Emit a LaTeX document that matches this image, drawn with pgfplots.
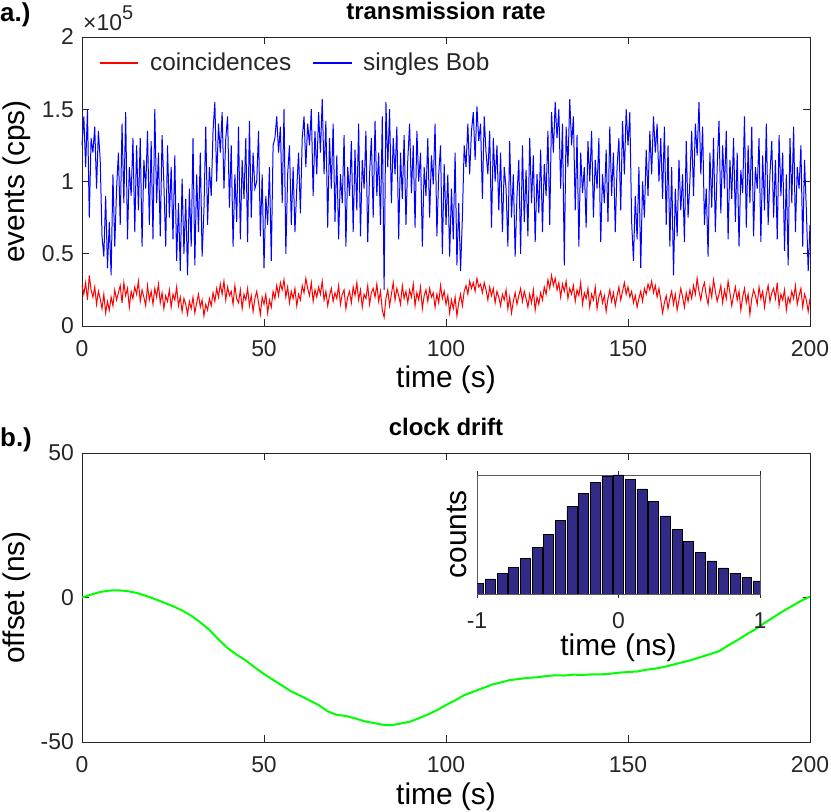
\documentclass[border=0pt]{standalone}
\usepackage{pgfplots}
\pgfplotsset{compat=1.18}
\usepackage{pgfplotstable}
\usepackage{fontspec}
\setmainfont{Liberation Sans}
\definecolor{axgray}{RGB}{38,38,38}
\definecolor{barblue}{RGB}{50,42,135}

% singles Bob (units of 1e5 cps), one value every 0.5 s from 0 to 200 s
\pgfplotstableread[row sep=\\]{
y\\
1.25\\ 1.45\\ 1.10\\ 1.50\\ 0.75\\ 1.30\\ 1.20\\ 1.38\\ 0.95\\ 1.35\\
1.15\\ 0.62\\ 0.48\\ 0.90\\ 0.40\\ 0.72\\ 0.35\\ 1.05\\ 0.55\\ 0.95\\
1.20\\ 0.70\\ 1.40\\ 0.85\\ 1.48\\ 0.60\\ 1.10\\ 0.90\\ 1.30\\ 0.65\\
1.25\\ 0.80\\ 1.30\\ 0.55\\ 1.15\\ 0.95\\ 1.35\\ 0.70\\ 1.28\\ 0.60\\
1.50\\ 0.85\\ 1.20\\ 0.62\\ 1.32\\ 0.98\\ 0.55\\ 1.25\\ 0.75\\ 1.10\\
0.60\\ 1.18\\ 0.45\\ 0.85\\ 0.38\\ 1.02\\ 0.50\\ 0.88\\ 0.35\\ 0.95\\
0.55\\ 1.30\\ 0.42\\ 1.05\\ 0.65\\ 1.20\\ 0.48\\ 0.80\\ 1.38\\ 0.70\\
1.10\\ 0.90\\ 1.35\\ 1.55\\ 1.00\\ 1.40\\ 1.20\\ 1.48\\ 0.95\\ 1.30\\
1.45\\ 0.82\\ 1.25\\ 0.55\\ 1.05\\ 0.72\\ 1.38\\ 0.60\\ 1.15\\ 0.88\\
1.30\\ 0.58\\ 1.42\\ 0.75\\ 1.20\\ 0.95\\ 1.00\\ 1.35\\ 0.62\\ 1.05\\
0.40\\ 0.90\\ 0.70\\ 1.10\\ 0.45\\ 1.25\\ 1.30\\ 1.45\\ 1.20\\ 1.38\\
0.85\\ 1.50\\ 0.50\\ 1.05\\ 1.25\\ 0.70\\ 1.10\\ 0.65\\ 0.95\\ 1.20\\
0.78\\ 1.30\\ 1.45\\ 1.10\\ 1.40\\ 1.25\\ 1.50\\ 0.90\\ 1.35\\ 1.05\\
1.48\\ 1.20\\ 1.57\\ 1.05\\ 1.42\\ 0.68\\ 1.30\\ 0.95\\ 1.40\\ 0.72\\
1.18\\ 0.60\\ 1.05\\ 0.85\\ 1.32\\ 0.55\\ 1.10\\ 0.90\\ 1.28\\ 0.65\\
1.22\\ 0.80\\ 1.40\\ 0.62\\ 1.15\\ 0.95\\ 1.35\\ 0.58\\ 1.05\\ 1.30\\
0.75\\ 1.42\\ 0.90\\ 1.20\\ 0.70\\ 1.45\\ 0.25\\ 1.55\\ 1.10\\ 1.50\\
0.85\\ 1.30\\ 1.05\\ 1.38\\ 0.60\\ 1.20\\ 0.88\\ 1.32\\ 0.70\\ 1.15\\
1.40\\ 0.92\\ 1.25\\ 0.68\\ 1.35\\ 1.00\\ 1.20\\ 0.55\\ 1.10\\ 0.90\\
1.30\\ 0.75\\ 1.18\\ 0.98\\ 1.40\\ 0.62\\ 1.05\\ 1.25\\ 0.50\\ 1.12\\
0.70\\ 1.05\\ 0.48\\ 0.95\\ 0.60\\ 1.20\\ 0.42\\ 0.85\\ 0.38\\ 0.75\\
1.25\\ 1.10\\ 1.40\\ 1.05\\ 1.35\\ 1.48\\ 1.15\\ 1.52\\ 1.28\\ 1.40\\
0.88\\ 1.45\\ 1.20\\ 1.05\\ 1.35\\ 0.68\\ 1.30\\ 1.00\\ 1.25\\ 0.80\\
1.20\\ 0.65\\ 1.10\\ 0.95\\ 0.55\\ 1.28\\ 0.75\\ 1.05\\ 0.48\\ 0.90\\
1.15\\ 0.50\\ 1.25\\ 0.72\\ 1.08\\ 0.62\\ 1.30\\ 0.85\\ 1.18\\ 0.58\\
1.05\\ 0.78\\ 1.22\\ 0.65\\ 1.12\\ 0.90\\ 1.35\\ 0.70\\ 1.48\\ 1.20\\
1.55\\ 1.30\\ 1.50\\ 0.95\\ 1.40\\ 0.42\\ 1.38\\ 1.10\\ 1.57\\ 1.25\\
1.45\\ 0.80\\ 1.32\\ 0.55\\ 1.20\\ 0.92\\ 1.10\\ 0.68\\ 1.28\\ 1.00\\
1.35\\ 0.75\\ 1.15\\ 0.95\\ 1.30\\ 0.58\\ 1.05\\ 0.85\\ 1.22\\ 0.72\\
1.38\\ 0.90\\ 1.20\\ 0.65\\ 1.10\\ 1.30\\ 0.80\\ 1.42\\ 1.05\\ 1.50\\
1.25\\ 1.48\\ 0.72\\ 0.45\\ 0.90\\ 0.60\\ 1.10\\ 0.40\\ 1.00\\ 0.75\\
1.22\\ 0.90\\ 1.35\\ 1.05\\ 1.45\\ 1.20\\ 1.40\\ 1.00\\ 1.30\\ 0.88\\
1.38\\ 0.70\\ 1.25\\ 0.55\\ 1.10\\ 0.35\\ 0.95\\ 0.62\\ 1.15\\ 0.80\\
1.05\\ 0.58\\ 1.28\\ 0.75\\ 1.00\\ 1.35\\ 0.90\\ 1.40\\ 1.18\\ 1.55\\
1.05\\ 1.38\\ 0.70\\ 0.95\\ 0.48\\ 1.20\\ 0.82\\ 1.30\\ 0.65\\ 1.10\\
1.42\\ 0.78\\ 1.25\\ 0.95\\ 1.35\\ 0.60\\ 1.15\\ 0.88\\ 1.30\\ 0.72\\
1.20\\ 0.55\\ 1.08\\ 0.92\\ 1.45\\ 0.68\\ 1.25\\ 0.85\\ 1.38\\ 0.62\\
1.10\\ 0.95\\ 1.30\\ 0.58\\ 1.18\\ 0.80\\ 1.40\\ 0.70\\ 1.05\\ 1.28\\
0.75\\ 1.15\\ 0.60\\ 1.32\\ 0.90\\ 1.20\\ 0.52\\ 1.05\\ 0.42\\ 1.30\\
0.85\\ 1.38\\ 0.65\\ 1.10\\ 0.95\\ 1.25\\ 0.55\\ 1.15\\ 0.80\\ 0.38\\
0.70\\
}\singlesdata

% coincidences (units of 1e5 cps), one value every 0.5 s from 0 to 200 s
\pgfplotstableread[row sep=\\]{
y\\
0.28\\ 0.22\\ 0.30\\ 0.18\\ 0.35\\ 0.25\\ 0.20\\ 0.27\\ 0.15\\ 0.24\\
0.19\\ 0.12\\ 0.22\\ 0.09\\ 0.17\\ 0.11\\ 0.20\\ 0.14\\ 0.25\\ 0.18\\
0.23\\ 0.28\\ 0.16\\ 0.30\\ 0.21\\ 0.26\\ 0.13\\ 0.24\\ 0.19\\ 0.27\\
0.22\\ 0.31\\ 0.17\\ 0.25\\ 0.20\\ 0.14\\ 0.28\\ 0.18\\ 0.24\\ 0.15\\
0.26\\ 0.20\\ 0.29\\ 0.16\\ 0.23\\ 0.12\\ 0.21\\ 0.17\\ 0.25\\ 0.13\\
0.22\\ 0.18\\ 0.27\\ 0.14\\ 0.20\\ 0.10\\ 0.19\\ 0.15\\ 0.08\\ 0.17\\
0.12\\ 0.20\\ 0.09\\ 0.16\\ 0.22\\ 0.13\\ 0.18\\ 0.07\\ 0.15\\ 0.11\\
0.19\\ 0.14\\ 0.23\\ 0.17\\ 0.26\\ 0.20\\ 0.29\\ 0.22\\ 0.31\\ 0.18\\
0.27\\ 0.21\\ 0.24\\ 0.15\\ 0.28\\ 0.19\\ 0.16\\ 0.25\\ 0.12\\ 0.22\\
0.18\\ 0.26\\ 0.14\\ 0.21\\ 0.10\\ 0.19\\ 0.24\\ 0.16\\ 0.08\\ 0.20\\
0.15\\ 0.22\\ 0.09\\ 0.18\\ 0.13\\ 0.24\\ 0.19\\ 0.28\\ 0.21\\ 0.30\\
0.25\\ 0.32\\ 0.20\\ 0.27\\ 0.16\\ 0.24\\ 0.19\\ 0.26\\ 0.14\\ 0.22\\
0.18\\ 0.28\\ 0.23\\ 0.33\\ 0.26\\ 0.21\\ 0.30\\ 0.17\\ 0.25\\ 0.20\\
0.27\\ 0.22\\ 0.31\\ 0.18\\ 0.24\\ 0.14\\ 0.21\\ 0.26\\ 0.17\\ 0.23\\
0.19\\ 0.28\\ 0.15\\ 0.22\\ 0.25\\ 0.12\\ 0.20\\ 0.24\\ 0.16\\ 0.27\\
0.21\\ 0.30\\ 0.18\\ 0.25\\ 0.13\\ 0.22\\ 0.19\\ 0.28\\ 0.15\\ 0.23\\
0.26\\ 0.20\\ 0.29\\ 0.17\\ 0.24\\ 0.11\\ 0.06\\ 0.19\\ 0.25\\ 0.14\\
0.22\\ 0.30\\ 0.18\\ 0.26\\ 0.21\\ 0.15\\ 0.28\\ 0.19\\ 0.24\\ 0.16\\
0.25\\ 0.20\\ 0.29\\ 0.14\\ 0.23\\ 0.18\\ 0.27\\ 0.12\\ 0.21\\ 0.25\\
0.17\\ 0.26\\ 0.20\\ 0.23\\ 0.13\\ 0.22\\ 0.16\\ 0.28\\ 0.19\\ 0.24\\
0.15\\ 0.21\\ 0.09\\ 0.18\\ 0.12\\ 0.20\\ 0.07\\ 0.16\\ 0.22\\ 0.14\\
0.24\\ 0.28\\ 0.22\\ 0.31\\ 0.26\\ 0.30\\ 0.24\\ 0.33\\ 0.27\\ 0.29\\
0.23\\ 0.30\\ 0.25\\ 0.18\\ 0.27\\ 0.21\\ 0.26\\ 0.16\\ 0.24\\ 0.20\\
0.14\\ 0.22\\ 0.18\\ 0.25\\ 0.12\\ 0.20\\ 0.09\\ 0.17\\ 0.23\\ 0.15\\
0.21\\ 0.26\\ 0.17\\ 0.24\\ 0.19\\ 0.13\\ 0.22\\ 0.16\\ 0.25\\ 0.11\\
0.20\\ 0.15\\ 0.23\\ 0.18\\ 0.27\\ 0.22\\ 0.32\\ 0.26\\ 0.35\\ 0.28\\
0.33\\ 0.25\\ 0.30\\ 0.20\\ 0.29\\ 0.24\\ 0.31\\ 0.19\\ 0.26\\ 0.22\\
0.28\\ 0.17\\ 0.25\\ 0.21\\ 0.30\\ 0.15\\ 0.23\\ 0.19\\ 0.26\\ 0.13\\
0.22\\ 0.18\\ 0.27\\ 0.12\\ 0.20\\ 0.24\\ 0.16\\ 0.21\\ 0.10\\ 0.19\\
0.25\\ 0.17\\ 0.23\\ 0.14\\ 0.21\\ 0.27\\ 0.18\\ 0.24\\ 0.30\\ 0.22\\
0.27\\ 0.20\\ 0.24\\ 0.16\\ 0.21\\ 0.13\\ 0.19\\ 0.24\\ 0.17\\ 0.26\\
0.22\\ 0.29\\ 0.25\\ 0.31\\ 0.23\\ 0.28\\ 0.20\\ 0.26\\ 0.18\\ 0.09\\
0.16\\ 0.21\\ 0.12\\ 0.19\\ 0.24\\ 0.15\\ 0.22\\ 0.11\\ 0.18\\ 0.26\\
0.20\\ 0.13\\ 0.23\\ 0.17\\ 0.25\\ 0.19\\ 0.28\\ 0.22\\ 0.33\\ 0.24\\
0.18\\ 0.26\\ 0.30\\ 0.21\\ 0.15\\ 0.27\\ 0.20\\ 0.32\\ 0.24\\ 0.17\\
0.22\\ 0.28\\ 0.16\\ 0.25\\ 0.19\\ 0.31\\ 0.23\\ 0.14\\ 0.21\\ 0.27\\
0.18\\ 0.24\\ 0.11\\ 0.20\\ 0.26\\ 0.16\\ 0.22\\ 0.08\\ 0.19\\ 0.25\\
0.21\\ 0.15\\ 0.27\\ 0.19\\ 0.24\\ 0.13\\ 0.22\\ 0.28\\ 0.17\\ 0.23\\
0.26\\ 0.19\\ 0.30\\ 0.14\\ 0.22\\ 0.18\\ 0.25\\ 0.11\\ 0.20\\ 0.16\\
0.24\\ 0.19\\ 0.28\\ 0.15\\ 0.21\\ 0.26\\ 0.13\\ 0.22\\ 0.18\\ 0.10\\
0.19\\
}\coincdata

\pgfplotsset{
  mat/.style={
    scale only axis,
    axis line style={axgray, line width=0.7bp},
    every tick/.style={axgray, line width=0.7bp},
    tick align=inside,
    major tick length=7bp,
    ticklabel style={font=\fontsize{23}{25}\selectfont, text=axgray},
    xticklabel style={anchor=base, inner sep=0pt, yshift=-31bp},
    yticklabel style={anchor=east, inner sep=0pt, xshift=-8bp},
    label style={font=\fontsize{30}{32}\selectfont},
    xlabel style={at={(axis description cs:0.5,0)}, anchor=base, inner sep=0pt, yshift=-62bp},
    ylabel style={at={(axis description cs:0,0.5)}, anchor=center},
    title style={font=\bfseries\fontsize{24}{26}\selectfont, at={(axis description cs:0.5,1)}, anchor=base, inner sep=0pt, yshift=12bp},
    /pgf/number format/assume math mode=true,
    scaled ticks=false,
  },
}

\begin{document}
\begin{tikzpicture}
\path[use as bounding box] (0bp,0bp) rectangle (831bp,812bp);

% ---------------- a.) transmission rate ----------------
\begin{axis}[mat,
  at={(82bp,486bp)}, anchor=south west,
  width=728bp, height=289bp,
  xmin=0, xmax=200, ymin=0, ymax=2,
  xtick={0,50,100,150,200},
  ytick={0,0.5,1,1.5,2},
  xlabel={time (s)}, ylabel={events (cps)},
  ylabel style={yshift=65bp},
  title={transmission rate},
  clip=false,
]
\addplot[red, line width=1bp] table[x expr=\coordindex/2, y=y] {\coincdata};
\addplot[blue, line width=1bp] table[x expr=\coordindex/2, y=y] {\singlesdata};
% legend (box off, as in the original)
\draw[red, line width=1.2bp] (rel axis cs:0.0247,0.910) -- (rel axis cs:0.0769,0.910);
\node[anchor=base west, inner sep=0pt, font=\fontsize{24.5}{26}\selectfont, text=axgray] at (rel axis cs:0.0934,0.884) {coincidences};
\draw[blue, line width=1.2bp] (rel axis cs:0.3173,0.910) -- (rel axis cs:0.3709,0.910);
\node[anchor=base west, inner sep=0pt, font=\fontsize{24.5}{26}\selectfont, text=axgray] at (rel axis cs:0.3860,0.884) {singles Bob};
% axis exponent
\node[anchor=base west, font=\fontsize{23}{25}\selectfont, text=axgray, inner sep=0pt] at (rel axis cs:0,1) [yshift=6bp, xshift=1bp] {×10\raisebox{0.48em}{\fontsize{20}{20}\selectfont 5}};
\end{axis}

% ---------------- b.) clock drift ----------------
\begin{axis}[mat,
  at={(82bp,70bp)}, anchor=south west,
  width=728bp, height=289bp,
  xmin=0, xmax=200, ymin=-50, ymax=50,
  xtick={0,50,100,150,200},
  ytick={-50,0,50},
  xlabel={time (s)}, ylabel={offset (ns)},
  ylabel style={yshift=65bp},
  title={clock drift},
]
\addplot[color={rgb,255:red,0;green,255;blue,0}, line width=2bp] coordinates {
(0,0) (2.5,1.0) (5,1.9) (7.5,2.4) (10,2.5) (12.5,2.2) (15,1.6) (17.5,0.6)
(20,-0.5) (22.5,-1.8) (25,-3.0) (27.5,-4.5) (30,-6.3) (32.5,-8.6) (35,-11.2)
(37.5,-14.5) (40,-17.5) (42.5,-19.8) (45,-21.8) (47.5,-24.2) (50,-26.5)
(52.5,-28.5) (55,-30.5) (57.5,-32.5) (60,-34.0) (62.5,-35.6) (65,-37.2)
(67.5,-39.4) (70,-40.6) (72.5,-41.0) (75,-41.8) (77.5,-42.8) (80,-43.4)
(82.5,-44.0) (85,-44.2) (87.5,-43.6) (90,-43.0) (92.5,-41.8) (95,-40.5)
(97.5,-39.0) (100,-37.2) (102.5,-35.6) (105,-33.8) (107.5,-32.6) (110,-31.4)
(112.5,-30.2) (115,-29.4) (117.5,-28.6) (120,-28.2) (122.5,-27.8) (125,-27.6)
(127.5,-27.2) (130,-26.9) (132.5,-27.0) (135,-26.7) (137.5,-26.8) (140,-26.6)
(142.5,-26.6) (145,-26.4) (147.5,-26.0) (150,-25.8) (152.5,-25.6) (155,-25.0)
(157.5,-24.6) (160,-24.0) (162.5,-23.2) (165,-22.4) (167.5,-21.6) (170,-20.6)
(172.5,-19.6) (175,-18.6) (177.5,-16.6) (180,-14.8) (182.5,-12.8) (185,-11.0)
(187.5,-8.8) (190,-6.8) (192.5,-4.8) (195,-3.0) (197.5,-1.2) (200,0.3)
};
\end{axis}

% ---------------- inset histogram ----------------
\begin{axis}[mat,
  at={(477bp,218bp)}, anchor=south west,
  width=283bp, height=119bp,
  xmin=-1, xmax=1, ymin=0, ymax=357,
  xtick={-1,0,1}, ytick=\empty,
  axis line style={gray!70!black, line width=0.7bp},
  major tick length=4bp,
  xlabel={time (ns)}, ylabel={counts},
  ylabel style={yshift=20bp},
  ybar, bar width=0.07, bar shift=0pt,
]
\addplot[fill=barblue, draw=black, line width=0.5bp] coordinates {
(-0.988,32) (-0.906,45) (-0.823,61) (-0.741,80) (-0.659,106) (-0.576,140)
(-0.494,178) (-0.412,220) (-0.329,263) (-0.247,302) (-0.165,335) (-0.082,354)
(0,357) (0.082,343) (0.165,315) (0.247,277) (0.329,234) (0.412,193)
(0.494,158) (0.576,124) (0.659,99) (0.741,78) (0.823,62) (0.906,49) (0.988,39)
};
\end{axis}

\node[anchor=west, font=\bfseries\fontsize{26}{28}\selectfont, inner sep=0pt] at (0bp,797bp) {a.)};
\node[anchor=west, font=\bfseries\fontsize{26}{28}\selectfont, inner sep=0pt] at (0bp,372bp) {b.)};
\end{tikzpicture}
\end{document}
